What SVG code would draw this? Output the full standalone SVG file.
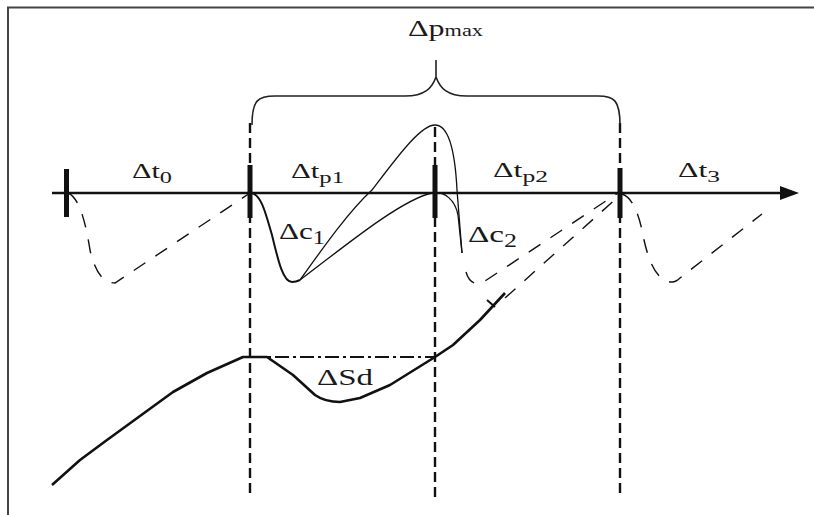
<svg xmlns="http://www.w3.org/2000/svg" width="814" height="515" viewBox="0 0 814 515">
<style>
text{font-family:'Liberation Serif','DejaVu Serif',serif;fill:#1a1a1a}
.tl{font-size:20px}
.cl{font-size:23px}
.thin{fill:none;stroke:#111;stroke-width:1.3}
.dash{fill:none;stroke:#111;stroke-width:1.4;stroke-dasharray:14,12}
.vd{fill:none;stroke:#111;stroke-width:2.4;stroke-dasharray:10,5}
.tick{fill:#111}
</style>
<rect width="814" height="515" fill="#fff"/>
<path d="M8,515 V7.5 H814" fill="none" stroke="#444" stroke-width="2"/>
<g id="connectors">
  <line x1="52" y1="193" x2="782" y2="193" stroke="#111" stroke-width="2.6"/>
  <polygon points="780,186 799,193 780,200" fill="#111"/>
  <line class="vd" x1="250" y1="123" x2="250" y2="497"/>
  <line class="vd" x1="435" y1="127" x2="435" y2="497"/>
  <line class="vd" x1="620" y1="123" x2="620" y2="497"/>
  <path d="M252,125 C252,100 258,96 275,96 H405 C425,96 432,88 436,77 C440,88 447,96 467,96 H598 C614,96 620,100 620,125 M436,77 V60" fill="none" stroke="#222" stroke-width="1.6"/>
  <path class="dash" d="M68,193 C80,198 86,225 90,250 C95,272 103,283 115,283 L250,193"/>
  <path class="dash" d="M466,272 Q470,286 482,283 L618,193"/>
  <path class="dash" d="M505,298 L618,197"/>
  <path class="dash" d="M622,194 C634,198 640,218 644,240 C649,262 657,282 672,282 Q676,282 680,278 L762,214"/>
  <path d="M252,193 C262,196 266,215 272,235 C278,260 283,282 292,282 C296,282 298,281 300,280" fill="none" stroke="#111" stroke-width="2"/>
  <path class="thin" d="M300,280 C325,245 350,210 372,190 C395,160 420,125 435,125 C448,125 455,150 457,190 L462,253"/>
  <path class="thin" d="M300,280 C340,250 400,200 432,193 C445,191 455,200 458,215 L462,253"/>
  <path d="M52,485 L80,460 L107,440 L140,416 L173,392 L207,373 L243,357 L267,357 L293,375 L315,395 Q325,402 340,402 L360,398 L390,385 L435,357 L453,345 L480,320 L505,293" fill="none" stroke="#111" stroke-width="2.6" stroke-linejoin="round"/>
  <line x1="487" y1="300" x2="495" y2="307" stroke="#111" stroke-width="2"/>
  <line x1="250" y1="357" x2="435" y2="357" stroke="#111" stroke-width="2" stroke-dasharray="14,4,3,4"/>
</g>
<g id="ticks">
  <rect class="tick" x="64" y="169" width="5" height="48"/>
  <rect class="tick" x="247.5" y="165" width="5" height="53"/>
  <rect class="tick" x="432.5" y="165" width="5" height="53"/>
  <rect class="tick" x="617.5" y="168" width="5" height="50"/>
</g>
<g id="labels">
  <text class="tl" x="132" y="178" textLength="40" lengthAdjust="spacingAndGlyphs">Δt<tspan font-size="16" dy="5">0</tspan></text>
  <text class="tl" x="291" y="178" textLength="53" lengthAdjust="spacingAndGlyphs">Δt<tspan font-size="16" dy="5">p1</tspan></text>
  <text class="tl" x="493" y="177" textLength="55" lengthAdjust="spacingAndGlyphs">Δt<tspan font-size="16" dy="5">p2</tspan></text>
  <text class="tl" x="678" y="177" textLength="42" lengthAdjust="spacingAndGlyphs">Δt<tspan font-size="16" dy="5">3</tspan></text>
  <text class="cl" x="279" y="239" textLength="46" lengthAdjust="spacingAndGlyphs">Δc<tspan font-size="18" dy="5">1</tspan></text>
  <text class="cl" x="468" y="242" textLength="49" lengthAdjust="spacingAndGlyphs">Δc<tspan font-size="18" dy="5">2</tspan></text>
  <text class="cl" x="317" y="385" textLength="56" lengthAdjust="spacingAndGlyphs">ΔSd</text>
  <text class="cl" x="408" y="36" textLength="75" lengthAdjust="spacingAndGlyphs">Δp<tspan font-size="16">max</tspan></text>
</g>
</svg>
